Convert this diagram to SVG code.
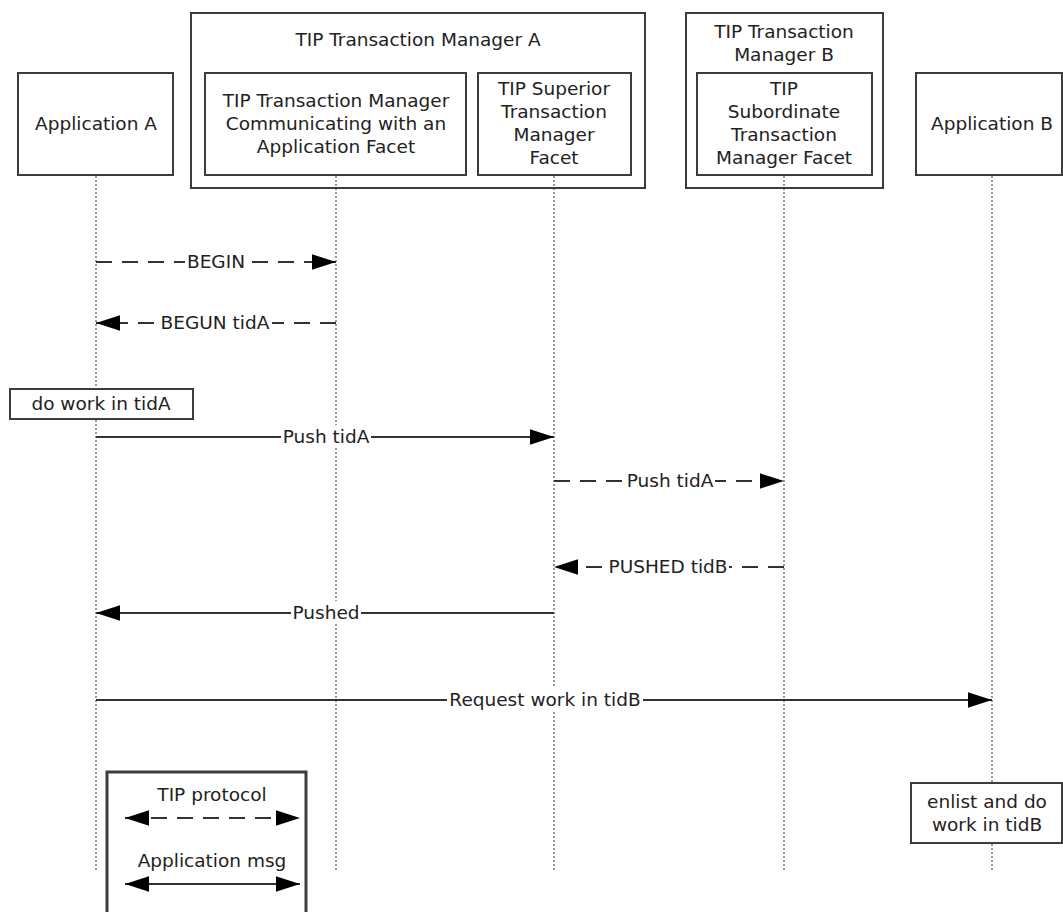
<svg xmlns="http://www.w3.org/2000/svg" width="1063" height="912" viewBox="0 0 1063 912">
<style>
.box{fill:#fff;stroke:#3c3c3c;stroke-width:2}
.frame{fill:none;stroke:#3c3c3c;stroke-width:2}
.t{font-family:"DejaVu Sans",Verdana,sans-serif;font-size:18.5px;fill:#222;text-anchor:middle}
.life{stroke:#777;stroke-width:1.5;stroke-dasharray:2,2;fill:none}
.msg{stroke:#333;stroke-width:2.2;fill:none}
.dash{stroke-dasharray:16,10}
.bg{fill:#fff}
</style>
<defs>
<marker id="ah" markerUnits="userSpaceOnUse" markerWidth="24" markerHeight="16" refX="22" refY="7" orient="auto-start-reverse" viewBox="0 0 22 14">
<path d="M0,0 L22,7 L0,14 z" fill="#000"/>
</marker>
</defs>
<g id="lifelines">
<line class="life" x1="96" y1="176" x2="96" y2="872"/>
<line class="life" x1="336" y1="176" x2="336" y2="872"/>
<line class="life" x1="554" y1="176" x2="554" y2="872"/>
<line class="life" x1="784" y1="176" x2="784" y2="872"/>
<line class="life" x1="992" y1="176" x2="992" y2="872"/>
</g>
<g id="tmA">
<rect class="frame" x="191" y="13" width="454" height="175"/>
<text class="t" x="418" y="46">TIP Transaction Manager A</text>
</g>
<g id="tmB">
<rect class="frame" x="686" y="13" width="197" height="175"/>
<text class="t" x="784" y="38">TIP Transaction</text>
<text class="t" x="784" y="61">Manager B</text>
</g>
<g id="appA">
<rect class="box" x="18" y="73" width="155" height="102"/>
<text class="t" x="96" y="130">Application A</text>
</g>
<g id="tmAppFacet">
<rect class="box" x="205" y="73" width="261" height="102"/>
<text class="t" x="336" y="107">TIP Transaction Manager</text>
<text class="t" x="336" y="130">Communicating with an</text>
<text class="t" x="336" y="153">Application Facet</text>
</g>
<g id="superior">
<rect class="box" x="478" y="73" width="153" height="102"/>
<text class="t" x="554" y="95">TIP Superior</text>
<text class="t" x="554" y="118">Transaction</text>
<text class="t" x="554" y="141">Manager</text>
<text class="t" x="554" y="164">Facet</text>
</g>
<g id="subordinate">
<rect class="box" x="697" y="73" width="175" height="102"/>
<text class="t" x="784" y="95">TIP</text>
<text class="t" x="784" y="118">Subordinate</text>
<text class="t" x="784" y="141">Transaction</text>
<text class="t" x="784" y="164">Manager Facet</text>
</g>
<g id="appB">
<rect class="box" x="916" y="73" width="146" height="102"/>
<text class="t" x="992" y="130">Application B</text>
</g>
<g id="doWorkA">
<rect class="box" x="10" y="389" width="183" height="30"/>
<text class="t" x="101" y="410">do work in tidA</text>
</g>
<g id="enlistB">
<rect class="box" x="911" y="783" width="151" height="60"/>
<text class="t" x="987" y="808">enlist and do</text>
<text class="t" x="987" y="831">work in tidB</text>
</g>
<g id="connectors">
<line class="msg dash" x1="96" y1="262" x2="336" y2="262" marker-end="url(#ah)"/>
<rect class="bg" x="185" y="250" width="61" height="22"/>
<text class="t" x="216" y="268">BEGIN</text>
<line class="msg dash" x1="336" y1="323" x2="96" y2="323" marker-end="url(#ah)"/>
<rect class="bg" x="159" y="311" width="113" height="22"/>
<text class="t" x="215" y="329">BEGUN tidA</text>
<line class="msg" x1="96" y1="437" x2="554" y2="437" marker-end="url(#ah)"/>
<rect class="bg" x="281" y="425" width="90" height="22"/>
<text class="t" x="326" y="443">Push tidA</text>
<line class="msg dash" x1="554" y1="481" x2="784" y2="481" marker-end="url(#ah)"/>
<rect class="bg" x="625" y="469" width="90" height="22"/>
<text class="t" x="670" y="487">Push tidA</text>
<line class="msg dash" x1="784" y1="567" x2="554" y2="567" marker-end="url(#ah)"/>
<rect class="bg" x="607" y="555" width="122" height="22"/>
<text class="t" x="668" y="573">PUSHED tidB</text>
<line class="msg" x1="554" y1="613" x2="96" y2="613" marker-end="url(#ah)"/>
<rect class="bg" x="291" y="601" width="70" height="22"/>
<text class="t" x="326" y="619">Pushed</text>
<line class="msg" x1="96" y1="700" x2="992" y2="700" marker-end="url(#ah)"/>
<rect class="bg" x="447" y="688" width="196" height="22"/>
<text class="t" x="545" y="706">Request work in tidB</text>
</g>
<g id="legend">
<rect class="box" x="107" y="772" width="199" height="145" style="stroke-width:3"/>
<text class="t" x="212" y="801">TIP protocol</text>
<line class="msg dash" x1="125" y1="818" x2="300" y2="818" marker-start="url(#ah)" marker-end="url(#ah)"/>
<text class="t" x="212" y="867">Application msg</text>
<line class="msg" x1="125" y1="884" x2="300" y2="884" marker-start="url(#ah)" marker-end="url(#ah)"/>
</g>
</svg>
